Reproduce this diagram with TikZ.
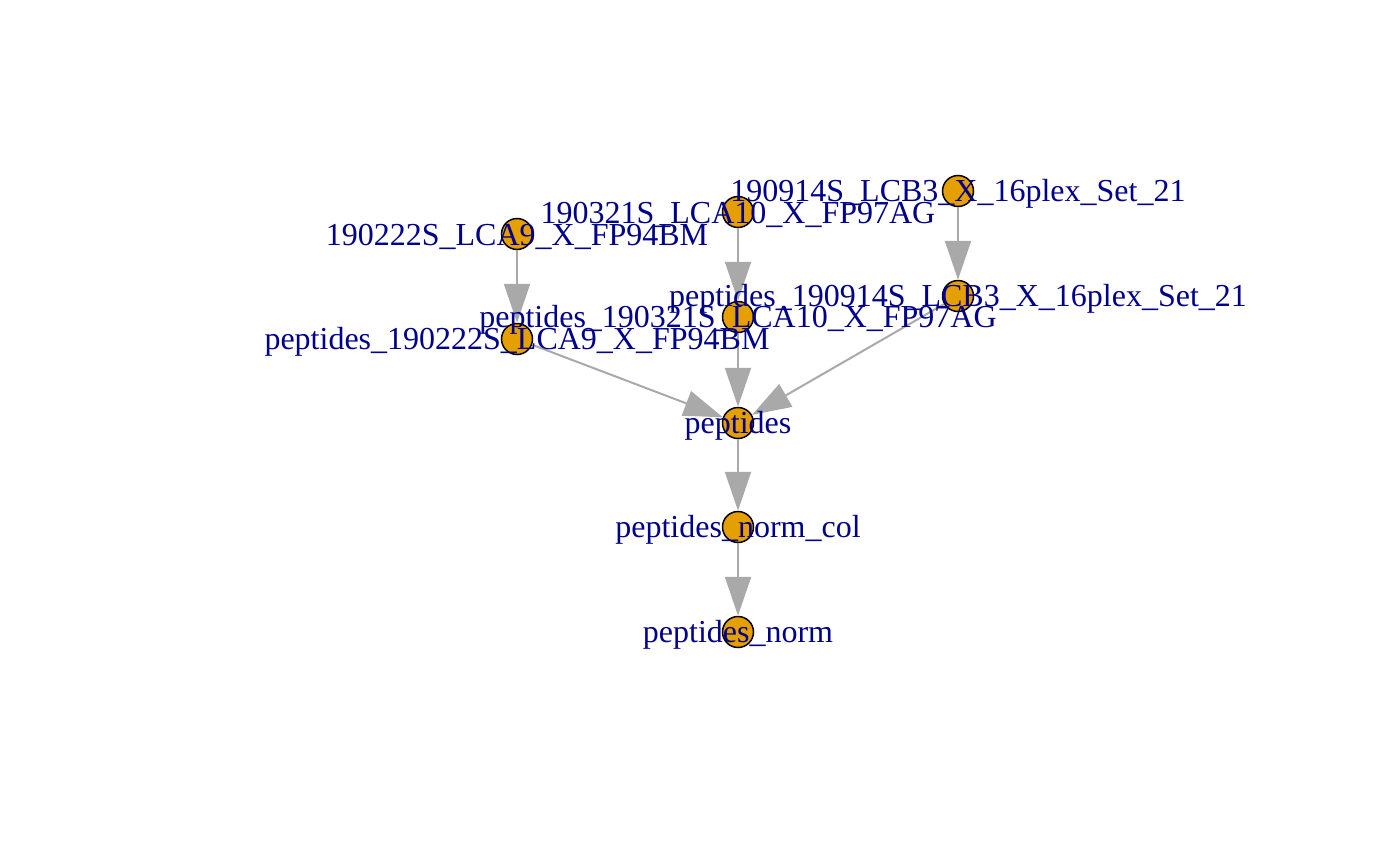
\documentclass[tikz,border=0pt]{standalone}
\usepackage{fontspec}
\setmainfont{Liberation Serif}
\usepackage{tikz}
\usetikzlibrary{arrows.meta,positioning}
\definecolor{myorange}{RGB}{230,159,0}
\definecolor{mygray}{RGB}{169,169,169}
\definecolor{myblue}{RGB}{0,0,139}

\begin{document}
\begin{tikzpicture}[
  x=1pt, y=-1pt,
  vtx/.style={
    draw=black,
    line width=1.5pt,
    fill=myorange,
    circle,
    minimum size=31pt,
    inner sep=0pt
    },
  lbl/.style={
    text=myblue,
    font=\fontsize{32}{34}\selectfont,
    inner sep=0pt,
    yshift=-3pt
    },
  flow/.style={
    draw=mygray,
    line width=2pt,
    -{Triangle[length=39pt,width=26pt]}
    }
]
\useasboundingbox (0,0) rectangle (1400,865);

% vertices
\node[vtx] (s1) at (517,234) {};
\node[vtx] (s2) at (738,212) {};
\node[vtx] (s3) at (958,191) {};
\node[vtx] (p1) at (517,339) {};
\node[vtx] (p2) at (738,317) {};
\node[vtx] (p3) at (958,296) {};
\node[vtx] (pep) at (738,423) {};
\node[vtx] (pnc) at (738,527) {};
\node[vtx] (pn) at (738,632) {};

% edges
\draw[flow] (s1) -- (p1);
\draw[flow] (s2) -- (p2);
\draw[flow] (s3) -- (p3);
\draw[flow] (p1) -- (pep);
\draw[flow] (p2) -- (pep);
\draw[flow] (p3) -- (pep);
\draw[flow] (pep) -- (pnc);
\draw[flow] (pnc) -- (pn);

% labels
\foreach \Vtx/\Txt in {
  s1/190222S\_LCA9\_X\_FP94BM,
  s2/190321S\_LCA10\_X\_FP97AG,
  s3/190914S\_LCB3\_X\_16plex\_Set\_21,
  p1/peptides\_190222S\_LCA9\_X\_FP94BM,
  p2/peptides\_190321S\_LCA10\_X\_FP97AG,
  p3/peptides\_190914S\_LCB3\_X\_16plex\_Set\_21,
  pep/peptides,
  pnc/peptides\_norm\_col,
  pn/peptides\_norm}
  \node[lbl] (l\Vtx) at (\Vtx) {\Txt};
\end{tikzpicture}
\end{document}
